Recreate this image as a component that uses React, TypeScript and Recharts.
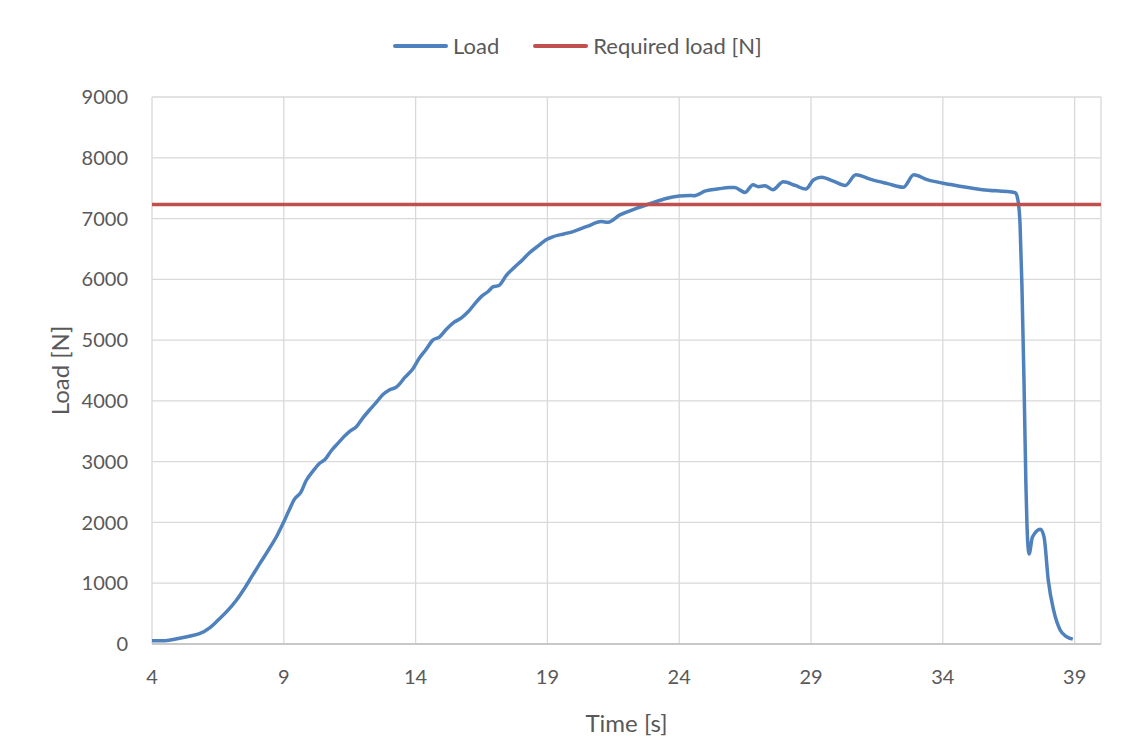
import React from "react";
import { LineChart, Line, XAxis, YAxis, CartesianGrid, Legend } from "recharts";

const loadTime = [
  4.0, 4.5, 5.0, 5.5, 5.8, 6.2, 6.5, 6.85, 7.2, 7.5, 7.8, 8.1, 8.45, 8.75, 9.0, 9.2, 9.4, 9.65, 9.85,
  10.1, 10.35, 10.55, 10.8, 11.05, 11.3, 11.5, 11.75, 12.0, 12.25, 12.5, 12.75, 13.0, 13.28, 13.6, 13.9,
  14.15, 14.4, 14.65, 14.9, 15.15, 15.45, 15.75, 16.0, 16.25, 16.5, 16.75, 16.95, 17.15, 17.45, 17.75,
  18.05, 18.3, 18.65, 18.95, 19.2, 19.5, 19.75, 20.0, 20.5, 21.05, 21.3, 21.75, 22.4, 23.0, 23.5, 24.0,
  24.4, 24.55, 25.0, 25.5, 25.9, 26.1, 26.5, 26.8, 27.0, 27.25, 27.55, 27.95, 28.4, 28.8, 29.1, 29.4,
  29.85, 30.3, 30.7, 31.3, 31.9, 32.5, 32.9, 33.4, 34.3, 35.5, 36.75, 36.85, 36.93, 37.0, 37.08, 37.15,
  37.19, 37.27, 37.4, 37.7, 37.84, 38.0, 38.2, 38.45, 38.7, 38.93,
];

const loadValue = [
  55, 55, 90, 135, 170, 270, 390, 540, 720, 910, 1120, 1330, 1570, 1790, 2010, 2200, 2380, 2500, 2690,
  2840, 2970, 3030, 3180, 3300, 3420, 3500, 3575, 3720, 3850, 3970, 4100, 4180, 4230, 4390, 4530,
  4710, 4850, 5000, 5050, 5170, 5290, 5370, 5470, 5600, 5720, 5800, 5880, 5895, 6070, 6200,
  6320, 6430, 6550, 6650, 6700, 6735, 6760, 6790, 6870, 6950, 6940, 7060, 7170, 7260, 7330, 7370,
  7380, 7375, 7455, 7490, 7510, 7510, 7430, 7555, 7525, 7540, 7475, 7605, 7545, 7485, 7640, 7680,
  7615, 7545, 7720, 7640, 7575, 7515, 7720, 7640, 7560, 7475, 7425, 7300, 6900, 5900, 4300, 2650,
  1990, 1480, 1760, 1890, 1760, 1050, 560, 230, 120, 80,
];

const requiredTime = [4, 40];
const requiredValue = [7230, 7230];

const xTicks = [4, 9, 14, 19, 24, 29, 34, 39];
const yTicks = [0, 1000, 2000, 3000, 4000, 5000, 6000, 7000, 8000, 9000];

const seriesNames = ["Load", "Required load [N]"];
const xTitle = "Time [s]";
const yTitle = "Load [N]";

const loadData = loadTime.map((t, i) => ({ t, load: loadValue[i] }));
const requiredData = requiredTime.map((t, i) => ({ t, required: requiredValue[i] }));

const FONT = "Lato, 'Open Sans', sans-serif";
const TEXT = "#595959";
const BLUE = "#4F81BD";
const RED = "#C0504D";

const renderLegend = (props: any) => {
  const payload = props.payload || [];
  return (
    <div
      style={{
        display: "flex",
        alignItems: "center",
        paddingLeft: 385,
        fontFamily: FONT,
        fontSize: 22,
        color: TEXT,
        lineHeight: "26px",
      }}
    >
      {payload.map((p: any, i: number) => (
        <div key={i} style={{ display: "flex", alignItems: "center", marginLeft: i === 0 ? 0 : 34 }}>
          <span
            style={{
              display: "inline-block",
              width: 55,
              height: 4,
              borderRadius: 2,
              background: p.color,
              marginRight: 5,
            }}
          />
          <span>{p.value}</span>
        </div>
      ))}
    </div>
  );
};

const renderYTitle = (props: any) => {
  const vb = props.viewBox || { x: 0, y: 89, width: 144, height: 547 };
  const cx = vb.x + 51;
  const cy = vb.y + vb.height / 2;
  return (
    <text
      x={cx}
      y={cy}
      transform={`rotate(-90, ${cx}, ${cy})`}
      textAnchor="middle"
      dominantBaseline="central"
      fontFamily={FONT}
      fontSize={24}
      fill={TEXT}
    >
      {yTitle}
    </text>
  );
};

const renderXTitle = (props: any) => {
  const vb = props.viewBox || { x: 144, y: 636, width: 949, height: 104 };
  return (
    <text
      x={vb.x + vb.width / 2}
      y={vb.y + 88}
      textAnchor="middle"
      fontFamily={FONT}
      fontSize={24}
      fill={TEXT}
    >
      {xTitle}
    </text>
  );
};

export default function App() {
  return (
    <div
      style={{
        marginLeft: -1,
        marginTop: -1,
        width: 1114,
        height: 740,
        borderLeft: "1px solid #d9d9d9",
        borderTop: "1px solid #d9d9d9",
        background: "#fff",
      }}
    >
      <LineChart width={1114} height={740} margin={{ top: 89, right: 21, bottom: 0, left: 0 }}>
        <CartesianGrid stroke="#d9d9d9" strokeWidth={1.3} />
        <XAxis
          type="number"
          dataKey="t"
          domain={[4, 40]}
          ticks={xTicks}
          height={104}
          tickLine={false}
          tickSize={0}
          tickMargin={26}
          axisLine={{ stroke: "#bfbfbf", strokeWidth: 1.3 }}
          tick={{ fill: TEXT, fontSize: 20, fontFamily: FONT }}
          interval={0}
          label={renderXTitle}
        />
        <YAxis
          type="number"
          domain={[0, 9000]}
          ticks={yTicks}
          width={144}
          tickLine={false}
          tickSize={0}
          tickMargin={24}
          axisLine={false}
          tick={{ fill: TEXT, fontSize: 20, fontFamily: FONT }}
          interval={0}
          label={renderYTitle}
        />
        <Legend
          layout="horizontal"
          align="center"
          verticalAlign="middle"
          wrapperStyle={{ top: 25, left: 0, width: 1114 }}
          content={renderLegend}
        />
        <Line
          name={seriesNames[0]}
          data={loadData}
          dataKey="load"
          type="monotone"
          stroke={BLUE}
          strokeWidth={3.5}
          dot={false}
          activeDot={false}
          isAnimationActive={false}
        />
        <Line
          name={seriesNames[1]}
          data={requiredData}
          dataKey="required"
          type="linear"
          stroke={RED}
          strokeWidth={3.5}
          dot={false}
          activeDot={false}
          isAnimationActive={false}
        />
      </LineChart>
    </div>
  );
}
